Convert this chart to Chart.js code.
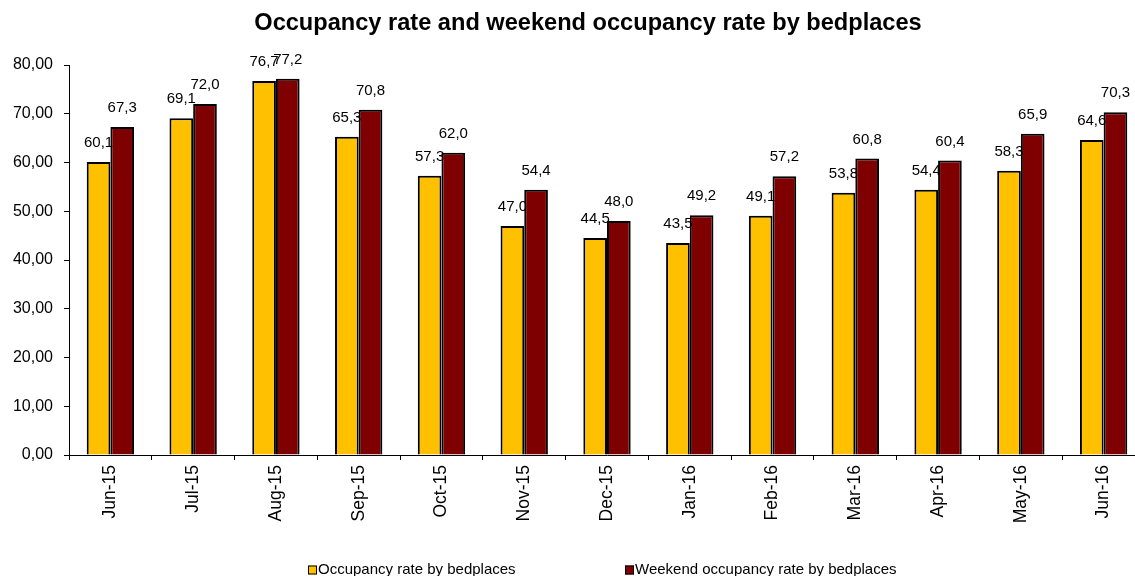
<!DOCTYPE html>
<html>
<head>
<meta charset="utf-8">
<script src="https://cdn.jsdelivr.net/npm/chart.js@4.4.1/dist/chart.umd.min.js"></script>
<style>
  html, body { margin: 0; padding: 0; background: #fff; overflow: hidden; }
  #wrap { width: 1135px; height: 576px; overflow: hidden; position: relative; }
  canvas { display: block; }
</style>
</head>
<body>
<div id="wrap"><canvas id="occChart" width="1150" height="576"></canvas></div>
<script>
/* DATA */
const TITLE = "Occupancy rate and weekend occupancy rate by bedplaces";
const months = ["Jun-15", "Jul-15", "Aug-15", "Sep-15", "Oct-15", "Nov-15", "Dec-15",
                "Jan-16", "Feb-16", "Mar-16", "Apr-16", "May-16", "Jun-16"];
const occupancy = [60.1, 69.1, 76.7, 65.3, 57.3, 47.0, 44.5, 43.5, 49.1, 53.8, 54.4, 58.3, 64.6];
const weekendOccupancy = [67.3, 72.0, 77.2, 70.8, 62.0, 54.4, 48.0, 49.2, 57.2, 60.8, 60.4, 65.9, 70.3];
const seriesNames = ["Occupancy rate by bedplaces", "Weekend occupancy rate by bedplaces"];
const yTicks = [0, 10, 20, 30, 40, 50, 60, 70, 80];

const FONT = "'Liberation Sans', Arial, sans-serif";
const comma = (v, d) => v.toFixed(d).replace(".", ",");

/* VALUE LABELS (drawn under the bars, like the original) */
const valueLabels = {
  id: "valueLabels",
  beforeDatasetsDraw(chart) {
    const ctx = chart.ctx;
    ctx.save();
    ctx.font = "15px " + FONT;
    ctx.fillStyle = "#000";
    ctx.textAlign = "center";
    ctx.textBaseline = "middle";
    chart.data.datasets.forEach((ds, i) => {
      chart.getDatasetMeta(i).data.forEach((bar, j) => {
        ctx.fillText(comma(ds.data[j], 1), bar.x, bar.y - 19);
      });
    });
    ctx.restore();
  }
};

/* TITLE + LEGEND */
const decor = {
  id: "decor",
  afterDraw(chart) {
    const ctx = chart.ctx;
    ctx.save();
    ctx.fillStyle = "#000";
    ctx.font = "bold 23.6px " + FONT;
    ctx.textAlign = "center";
    ctx.textBaseline = "middle";
    ctx.fillText(TITLE, 588, 23);

    const legendX = [308, 625];
    ctx.font = "15px " + FONT;
    ctx.textAlign = "left";
    chart.data.datasets.forEach((ds, i) => {
      const x = legendX[i], y = 570;
      ctx.fillStyle = ds.backgroundColor;
      ctx.fillRect(x, y - 4.5, 9, 9);
      ctx.strokeStyle = "#000";
      ctx.lineWidth = 1;
      ctx.strokeRect(x + 0.5, y - 4, 8, 8);
      ctx.fillStyle = "#000";
      ctx.fillText(ds.label, x + 10, y);
    });
    ctx.restore();
  }
};

new Chart(document.getElementById("occChart"), {
  type: "bar",
  data: {
    labels: months,
    datasets: [
      {
        label: seriesNames[0],
        data: occupancy,
        backgroundColor: "#FFC000",
        borderColor: "#000",
        borderWidth: 2,
        categoryPercentage: 0.572,
        barPercentage: 1.0
      },
      {
        label: seriesNames[1],
        data: weekendOccupancy,
        backgroundColor: "#7F0000",
        borderColor: "#000",
        borderWidth: 2,
        categoryPercentage: 0.572,
        barPercentage: 1.0
      }
    ]
  },
  options: {
    responsive: false,
    animation: false,
    devicePixelRatio: 1,
    layout: { padding: { top: 65, right: 5, bottom: 0, left: 0 } },
    plugins: {
      legend: { display: false },
      title: { display: false },
      tooltip: { enabled: false }
    },
    scales: {
      x: {
        grid: { offset: true, drawOnChartArea: false, drawTicks: true, tickLength: 5, color: "#000" },
        border: { display: true, color: "#000", width: 1 },
        ticks: {
          color: "#000",
          font: { family: FONT, size: 17.5 },
          minRotation: 90,
          maxRotation: 90,
          autoSkip: false,
          padding: 5
        },
        afterFit(scale) { scale.height = 121; }
      },
      y: {
        min: 0,
        max: 80,
        afterBuildTicks(scale) { scale.ticks = yTicks.map(v => ({ value: v })); },
        grid: { drawOnChartArea: false, drawTicks: true, tickLength: 5, color: "#000" },
        border: { display: true, color: "#000", width: 1 },
        ticks: {
          color: "#000",
          font: { family: FONT, size: 16 },
          padding: 11,
          callback: v => comma(v, 2)
        },
        afterFit(scale) { scale.width = 69; }
      }
    }
  },
  plugins: [valueLabels, decor]
});
</script>
</body>
</html>
